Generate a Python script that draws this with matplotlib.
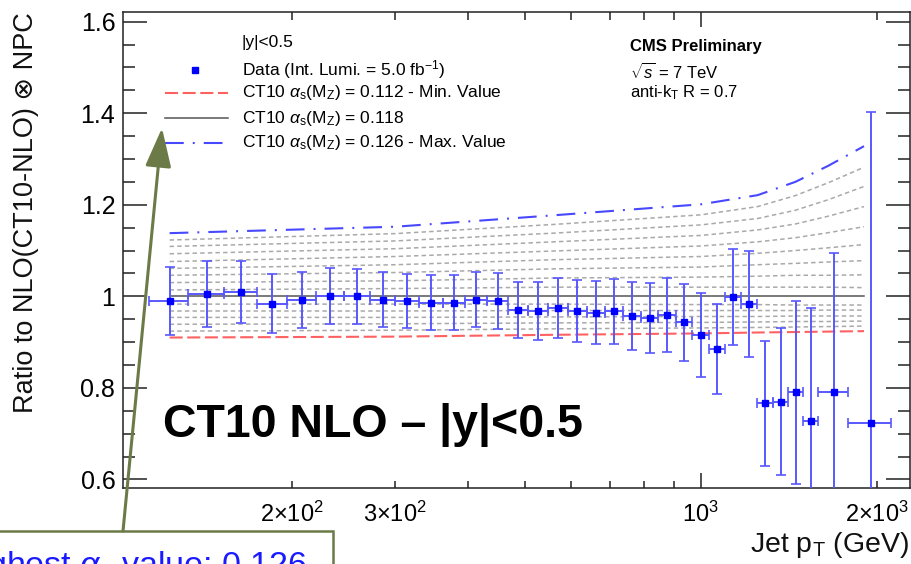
import matplotlib
matplotlib.use("Agg")
import matplotlib.pyplot as plt
from matplotlib.lines import Line2D
from matplotlib.patches import Rectangle, FancyArrowPatch
from matplotlib.ticker import FixedLocator, FixedFormatter, NullFormatter

plt.rcParams['font.family'] = ['Liberation Sans', 'DejaVu Sans']
plt.rcParams['mathtext.fontset'] = 'custom'
plt.rcParams['mathtext.rm'] = 'Liberation Sans'
plt.rcParams['mathtext.it'] = 'Liberation Sans:italic'
plt.rcParams['mathtext.bf'] = 'Liberation Sans:bold'
plt.rcParams['lines.scale_dashes'] = False

# jet pT bins (GeV) and data / theory ratio
pt_edges = [114, 133, 153, 174, 196, 220, 245, 272, 300, 330, 362, 395, 430, 468,
            507, 548, 592, 638, 686, 737, 790, 846, 905, 967, 1032, 1101, 1172,
            1248, 1327, 1410, 1497, 1588, 1784, 2116]
ratio = [0.989, 1.005, 1.010, 0.984, 0.992, 1.000, 1.000, 0.993, 0.989, 0.986,
         0.986, 0.993, 0.989, 0.970, 0.968, 0.975, 0.968, 0.964, 0.967, 0.957,
         0.953, 0.959, 0.943, 0.916, 0.885, 0.998, 0.984, 0.766, 0.770, 0.790,
         0.727, 0.790, 0.723]
ratio_err = [0.074, 0.072, 0.068, 0.064, 0.062, 0.061, 0.060, 0.061, 0.059, 0.060,
             0.060, 0.061, 0.061, 0.062, 0.064, 0.065, 0.067, 0.069, 0.071, 0.074,
             0.077, 0.081, 0.085, 0.092, 0.098, 0.105, 0.116, 0.136, 0.160, 0.200,
             0.247, 0.304, 0.680]

# theory curves (ratio to CT10 alpha_s = 0.118), read at a few pT values
pt_nodes = [123.5, 300, 560, 1000, 1250, 1450, 1650, 1900]
ratio_max = [1.138, 1.152, 1.177, 1.201, 1.221, 1.250, 1.285, 1.328]
ratio_min = [0.910, 0.912, 0.916, 0.919, 0.921, 0.922, 0.923, 0.924]
ratio_central = [1.0, 1.0, 1.0, 1.0, 1.0, 1.0, 1.0, 1.0]
ratio_above = [
    [1.123, 1.137, 1.157, 1.178, 1.196, 1.220, 1.248, 1.282],
    [1.109, 1.121, 1.138, 1.156, 1.170, 1.188, 1.211, 1.240],
    [1.093, 1.104, 1.119, 1.133, 1.145, 1.158, 1.175, 1.196],
    [1.076, 1.087, 1.099, 1.110, 1.119, 1.128, 1.139, 1.152],
    [1.061, 1.069, 1.080, 1.087, 1.094, 1.100, 1.106, 1.113],
    [1.046, 1.052, 1.060, 1.064, 1.069, 1.072, 1.075, 1.078],
    [1.030, 1.034, 1.040, 1.042, 1.044, 1.046, 1.046, 1.047],
    [1.014, 1.017, 1.020, 1.020, 1.020, 1.020, 1.020, 1.019],
]
ratio_below = [
    [0.983, 0.983, 0.983, 0.982, 0.982, 0.981, 0.981, 0.981],
    [0.968, 0.968, 0.969, 0.969, 0.969, 0.969, 0.970, 0.970],
    [0.954, 0.954, 0.955, 0.956, 0.956, 0.957, 0.957, 0.957],
    [0.939, 0.940, 0.942, 0.943, 0.944, 0.945, 0.945, 0.946],
    [0.924, 0.926, 0.929, 0.931, 0.932, 0.933, 0.934, 0.935],
]

W, H = 912, 564


def fx(p):
    return p / W


def fy(p):
    return 1 - p / H


fig = plt.figure(figsize=(9.12, 5.64), dpi=100)
ax = fig.add_axes([fx(123), fy(488), (910 - 123) / W, (488 - 12) / H])

gray_style = dict(color='#a9a9a9', lw=1.1, linestyle=(0, (3.2, 2.3)))
red_style = dict(color='#ff6161', lw=1.5, linestyle=(0, (9.4, 3.3)))
black_style = dict(color='#555555', lw=1.1, linestyle='-')
blue_style = dict(color='#4848ff', lw=1.5, linestyle=(0, (13.5, 6.5, 1.4, 6.5)))

for vals in ratio_above + ratio_below:
    ax.plot(pt_nodes, vals, zorder=1, **gray_style)
ax.plot(pt_nodes, ratio_min, zorder=2, **red_style)
ax.plot(pt_nodes, ratio_central, zorder=2, **black_style)
ax.plot(pt_nodes, ratio_max, zorder=2, **blue_style)

lo = pt_edges[:-1]
hi = pt_edges[1:]
centers = [(a + b) / 2 for a, b in zip(lo, hi)]
xerr = [[c - a for c, a in zip(centers, lo)], [b - c for c, b in zip(centers, hi)]]
ax.errorbar(centers, ratio, yerr=ratio_err, xerr=xerr, fmt='s', ms=4.6,
            mfc='#0000ff', mec='#0000ff', ecolor='#5858ff', elinewidth=1.4,
            capsize=3.4, capthick=1.2, zorder=3)

ax.set_xscale('log')
ax.set_xlim(102.8, 2277)
ax.set_ylim(0.5814, 1.621)

ax.xaxis.set_major_locator(FixedLocator([1000]))
ax.xaxis.set_major_formatter(FixedFormatter([r'$10^{3}$']))
minor_x = [200, 300, 400, 500, 600, 700, 800, 900, 2000]
minor_lab = [r'$2{\times}10^{2}$', r'$3{\times}10^{2}$', '', '', '', '', '', '',
             r'$2{\times}10^{3}$']
ax.xaxis.set_minor_locator(FixedLocator(minor_x))
ax.xaxis.set_minor_formatter(FixedFormatter(minor_lab))

y_major = [0.6, 0.8, 1.0, 1.2, 1.4, 1.6]
ax.yaxis.set_major_locator(FixedLocator(y_major))
ax.yaxis.set_major_formatter(FixedFormatter(['0.6', '0.8', '1', '1.2', '1.4', '1.6']))
ax.yaxis.set_minor_locator(FixedLocator([0.6 + 0.05 * i for i in range(21)]))
ax.yaxis.set_minor_formatter(NullFormatter())

ax.tick_params(which='both', direction='in', top=True, right=True,
               color='#222222', width=1.1)
ax.tick_params(axis='x', which='major', length=10.8, labelsize=17, pad=10)
ax.tick_params(axis='x', which='minor', length=5.4, labelsize=17, pad=10)
ax.tick_params(axis='y', which='major', length=17.3, labelsize=18, pad=5.5)
ax.tick_params(axis='y', which='minor', length=8.6)
for s in ax.spines.values():
    s.set_linewidth(1.1)
    s.set_color('#222222')

# axis titles
fig.text(fx(26), fy(12), 'Ratio to NLO(CT10-NLO) \u2297 NPC', rotation=90,
         ha='center', va='top', fontsize=19.5, color='#111111')
fig.text(fx(909), fy(552), r'Jet p$_\mathrm{T}$ (GeV)', ha='right', va='baseline',
         fontsize=20.5, color='#111111')

# legend
fs = 12.5
fig.text(fx(242), fy(43), '|y|<0.5', fontsize=fs, va='center')
fig.add_artist(Line2D([fx(195)], [fy(70)], transform=fig.transFigure, marker='s',
                      ms=4.6, color='#0000ff', linestyle='none'))
fig.text(fx(242), fy(70), r'Data (Int. Lumi. = 5.0 fb$^{-1}$)', fontsize=fs, va='center')
legend_rows = [(93, red_style, r'CT10 $\alpha_\mathrm{s}$(M$_\mathrm{Z}$) = 0.112 - Min. Value'),
               (118, black_style, r'CT10 $\alpha_\mathrm{s}$(M$_\mathrm{Z}$) = 0.118'),
               (143, blue_style, r'CT10 $\alpha_\mathrm{s}$(M$_\mathrm{Z}$) = 0.126 - Max. Value')]
for yy, st, lab in legend_rows:
    fig.add_artist(Line2D([fx(165), fx(228)], [fy(yy), fy(yy)],
                          transform=fig.transFigure, **st))
    fig.text(fx(242), fy(yy), lab, fontsize=fs, va='center')

fig.text(fx(630), fy(47), 'CMS Preliminary', fontsize=12, fontweight='bold', va='center')
fig.text(fx(630), fy(72), r'$\sqrt{s}$ = 7 TeV', fontsize=12, va='center')
fig.text(fx(630), fy(93), r'anti-k$_\mathrm{T}$ R = 0.7', fontsize=12, va='center')

fig.text(fx(163), fy(437), 'CT10 NLO \u2013 |y|<0.5', fontsize=33.5,
         fontweight='bold', ha='left', va='baseline')

# annotation box and arrow (box runs off the lower-left edge, as in the original)
olive = '#6c7a48'
fig.add_artist(Rectangle((fx(-60), fy(620)), (333 + 60) / W, (620 - 531) / H,
                         transform=fig.transFigure, facecolor='white',
                         edgecolor=olive, lw=1.8, zorder=5))
fig.text(fx(307), fy(575), r'Highest $\alpha_\mathrm{s}$ value: 0.126', fontsize=24.5,
         color='#1a1aff', ha='right', va='baseline', zorder=6)
fig.add_artist(FancyArrowPatch((fx(123), fy(531)), (fx(162), fy(128)),
                               transform=fig.transFigure,
                               arrowstyle='-|>,head_length=24,head_width=8',
                               mutation_scale=1, lw=2.2, color=olive,
                               shrinkA=0, shrinkB=0, zorder=6))

fig.savefig('out.png', dpi=100)
